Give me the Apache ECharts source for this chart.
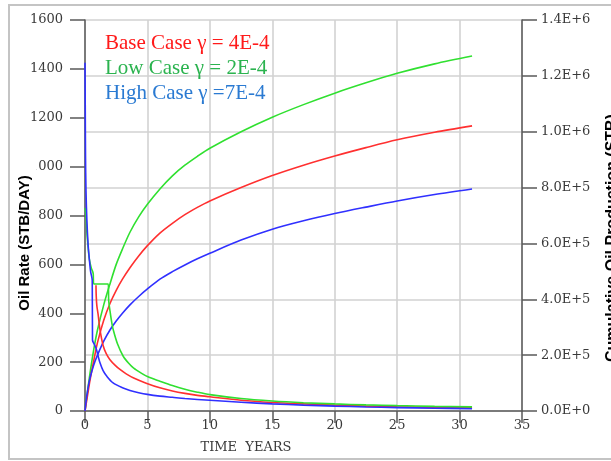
<!DOCTYPE html>
<html>
<head>
<meta charset="utf-8">
<title>Oil Rate and Cumulative Oil Production</title>
<script src="https://cdn.jsdelivr.net/npm/echarts@6/dist/echarts.min.js"></script>
<style>
  html, body { margin: 0; padding: 0; background: #fff; }
  #chart { width: 611px; height: 461px; }
</style>
</head>
<body>
<div id="chart"></div>
<script>
// Oil rate (STB/DAY) vs time in years, one curve per gamma case
const baseRate = [[0.88,515],[0.9,470],[0.95,430],[1.05,395],[1.2,333],[1.45,268],[1.7,235],[2.0,210],[2.4,188],[2.8,170],[3.3,152],[3.9,135],[4.9,114],[6,95],[7,82],[8,72],[9,64],[10,58],[12.5,44],[15,35],[17.5,29],[20,24],[22.5,20],[25,17],[28,15],[31,13]];
const lowRate = [[0,830],[0.08,800],[0.15,730],[0.25,670],[0.35,620],[0.5,585],[0.62,570],[0.66,560],[0.7,520],[1.86,520],[1.9,450],[2.0,410],[2.15,360],[2.3,325],[2.6,275],[3.05,225],[3.5,195],[3.9,175],[4.5,155],[5,141],[6,122],[7,104],[8,89],[9,77],[10,67],[12.5,51],[15,41],[17.5,34],[20,29],[22.5,25],[25,22],[28,19],[31,17]];
const highRate = [[0,1425],[0.02,1250],[0.04,1050],[0.08,900],[0.15,780],[0.25,680],[0.35,620],[0.45,570],[0.58,535],[0.6,290],[0.75,272],[0.9,255],[1.05,225],[1.2,197],[1.45,165],[1.75,142],[2.25,115],[3,95],[3.6,84],[4.3,75],[5,68],[6,61],[7,56],[8,51],[10,44],[12.5,36],[15,29],[17.5,24],[20,20],[22.5,16.5],[25,14],[28,11.5],[31,9.5]];

// Cumulative oil production (STB) vs time in years
const baseCum = [[0,0],[0.2,55000],[0.4,110000],[0.7,180000],[1,245000],[1.5,325000],[2,385000],[2.5,432000],[3,472000],[3.6,513000],[4.3,555000],[5,592000],[6,637000],[7,672000],[8,703000],[9,729000],[10,752000],[12.5,800000],[15,843000],[17.5,880000],[20,913000],[22.5,943000],[25,971000],[28,998000],[31,1021000]];
const lowCum = [[0,0],[0.2,70000],[0.4,135000],[0.7,220000],[1,290000],[1.5,380000],[2,455000],[2.5,525000],[3,580000],[3.6,640000],[4.3,695000],[5,740000],[6,795000],[7,842000],[8,880000],[9,912000],[10,941000],[12.5,1000000],[15,1052000],[17.5,1097000],[20,1138000],[22.5,1175000],[25,1209000],[28,1243000],[31,1271000]];
const highCum = [[0,0],[0.1,40000],[0.25,85000],[0.4,118000],[0.7,165000],[1,200000],[1.5,250000],[2,290000],[2.5,322000],[3,350000],[3.6,380000],[4.3,410000],[5,437000],[6,472000],[7,499000],[8,523000],[9,545000],[10,565000],[12.5,612000],[15,651000],[17.5,681000],[20,707000],[22.5,730000],[25,752000],[28,775000],[31,795000]];

// Case labels
const caseLabels = ['Base Case \u03b3 = 4E-4', 'Low Case \u03b3 = 2E-4', 'High Case \u03b3 =7E-4'];
const caseTextColors = ['#ff1a1a', '#2bb34f', '#2a7ad2'];
const lineColors = ['#ff3030', '#30e030', '#3030ff'];

// Axis settings
const timeMax = 35, timeStep = 5;
const rateMax = 1600, rateStep = 200;
const cumMax = 1400000, cumStep = 200000;

function sciLabel(v) {
  if (v === 0) return '0.0E+0';
  const e = Math.floor(Math.log10(v) + 1e-9);
  const m = v / Math.pow(10, e);
  return m.toFixed(1) + 'E+' + e;
}
function plainLabel(v) { return String(v); }

const GRID = { left: 85, top: 20, width: 437, height: 391 };
const axisColor = '#5a5a5a';
const gridColor = '#d2d2d2';
const tickFont = { fontFamily: 'DejaVu Serif', fontSize: 13, color: '#3a3a3a' };

function lineSeries(name, data, color, yIdx) {
  return {
    name: name, type: 'line', data: data, yAxisIndex: yIdx,
    showSymbol: false, smooth: 0.3,
    lineStyle: { color: color, width: 1.6 }, silent: true
  };
}

const chart = echarts.init(document.getElementById('chart'), null, { renderer: 'canvas' });
chart.setOption({
  animation: false,
  backgroundColor: '#fff',
  grid: Object.assign({ containLabel: false }, GRID),
  xAxis: {
    type: 'value', min: 0, max: timeMax, interval: timeStep,
    axisLine: { show: true, onZero: false, lineStyle: { color: axisColor, width: 1.5 } },
    axisTick: { show: true, inside: false, length: 12, lineStyle: { color: axisColor, width: 1.5 } },
    axisLabel: Object.assign({ margin: 8, formatter: plainLabel }, tickFont),
    splitLine: { show: true, lineStyle: { color: gridColor, width: 1.6 } }
  },
  yAxis: [
    {
      type: 'value', min: 0, max: rateMax, interval: rateStep, position: 'left',
      axisLine: { show: true, lineStyle: { color: axisColor, width: 1.5 } },
      axisTick: { show: true, length: 15, lineStyle: { color: axisColor, width: 1.5 } },
      axisLabel: Object.assign({ margin: 22, formatter: plainLabel }, tickFont),
      splitLine: { show: false }
    },
    {
      type: 'value', min: 0, max: cumMax, interval: cumStep, position: 'right',
      axisLine: { show: true, lineStyle: { color: axisColor, width: 1.5 } },
      axisTick: { show: true, length: 15, lineStyle: { color: axisColor, width: 1.5 } },
      axisLabel: Object.assign({ margin: 19, formatter: sciLabel }, tickFont),
      splitLine: { show: true, lineStyle: { color: gridColor, width: 1.6 } }
    }
  ],
  series: [
    lineSeries('Low Case cumulative', lowCum, lineColors[1], 1),
    lineSeries('Base Case cumulative', baseCum, lineColors[0], 1),
    lineSeries('High Case cumulative', highCum, lineColors[2], 1),
    lineSeries('Base Case rate', baseRate, lineColors[0], 0),
    lineSeries('Low Case rate', lowRate, lineColors[1], 0),
    lineSeries('High Case rate', highRate, lineColors[2], 0)
  ],
  graphic: [
    { type: 'rect', z: 0, silent: true,
      shape: { x: 9, y: 5, width: 620, height: 454 },
      style: { fill: null, stroke: '#c4c4c4', lineWidth: 2 } },
    { type: 'text', z: 100, x: 105, y: 43,
      style: { text: caseLabels[0], fill: caseTextColors[0], font: '21px "Liberation Serif"', verticalAlign: 'middle' } },
    { type: 'text', z: 100, x: 105, y: 68,
      style: { text: caseLabels[1], fill: caseTextColors[1], font: '21px "Liberation Serif"', verticalAlign: 'middle' } },
    { type: 'text', z: 100, x: 105, y: 93,
      style: { text: caseLabels[2], fill: caseTextColors[2], font: '21px "Liberation Serif"', verticalAlign: 'middle' } },
    { type: 'text', z: 100, x: 25, y: 243, rotation: Math.PI / 2,
      style: { text: 'Oil Rate (STB/DAY)', fill: '#000', font: 'bold 15px "Liberation Sans"',
               align: 'center', verticalAlign: 'middle', backgroundColor: '#fff', padding: [4, 18] } },
    { type: 'text', z: 100, x: 613, y: 238, rotation: Math.PI / 2,
      style: { text: 'Cumulative Oil Production (STB)', fill: '#000', font: 'bold 16px "Liberation Sans"',
               align: 'center', verticalAlign: 'middle' } },
    { type: 'text', z: 100, x: 246, y: 448,
      style: { text: 'TIME  YEARS', fill: '#3a3a3a', font: '13px "DejaVu Serif"',
               align: 'center', verticalAlign: 'middle' } }
  ]
});
</script>
</body>
</html>
